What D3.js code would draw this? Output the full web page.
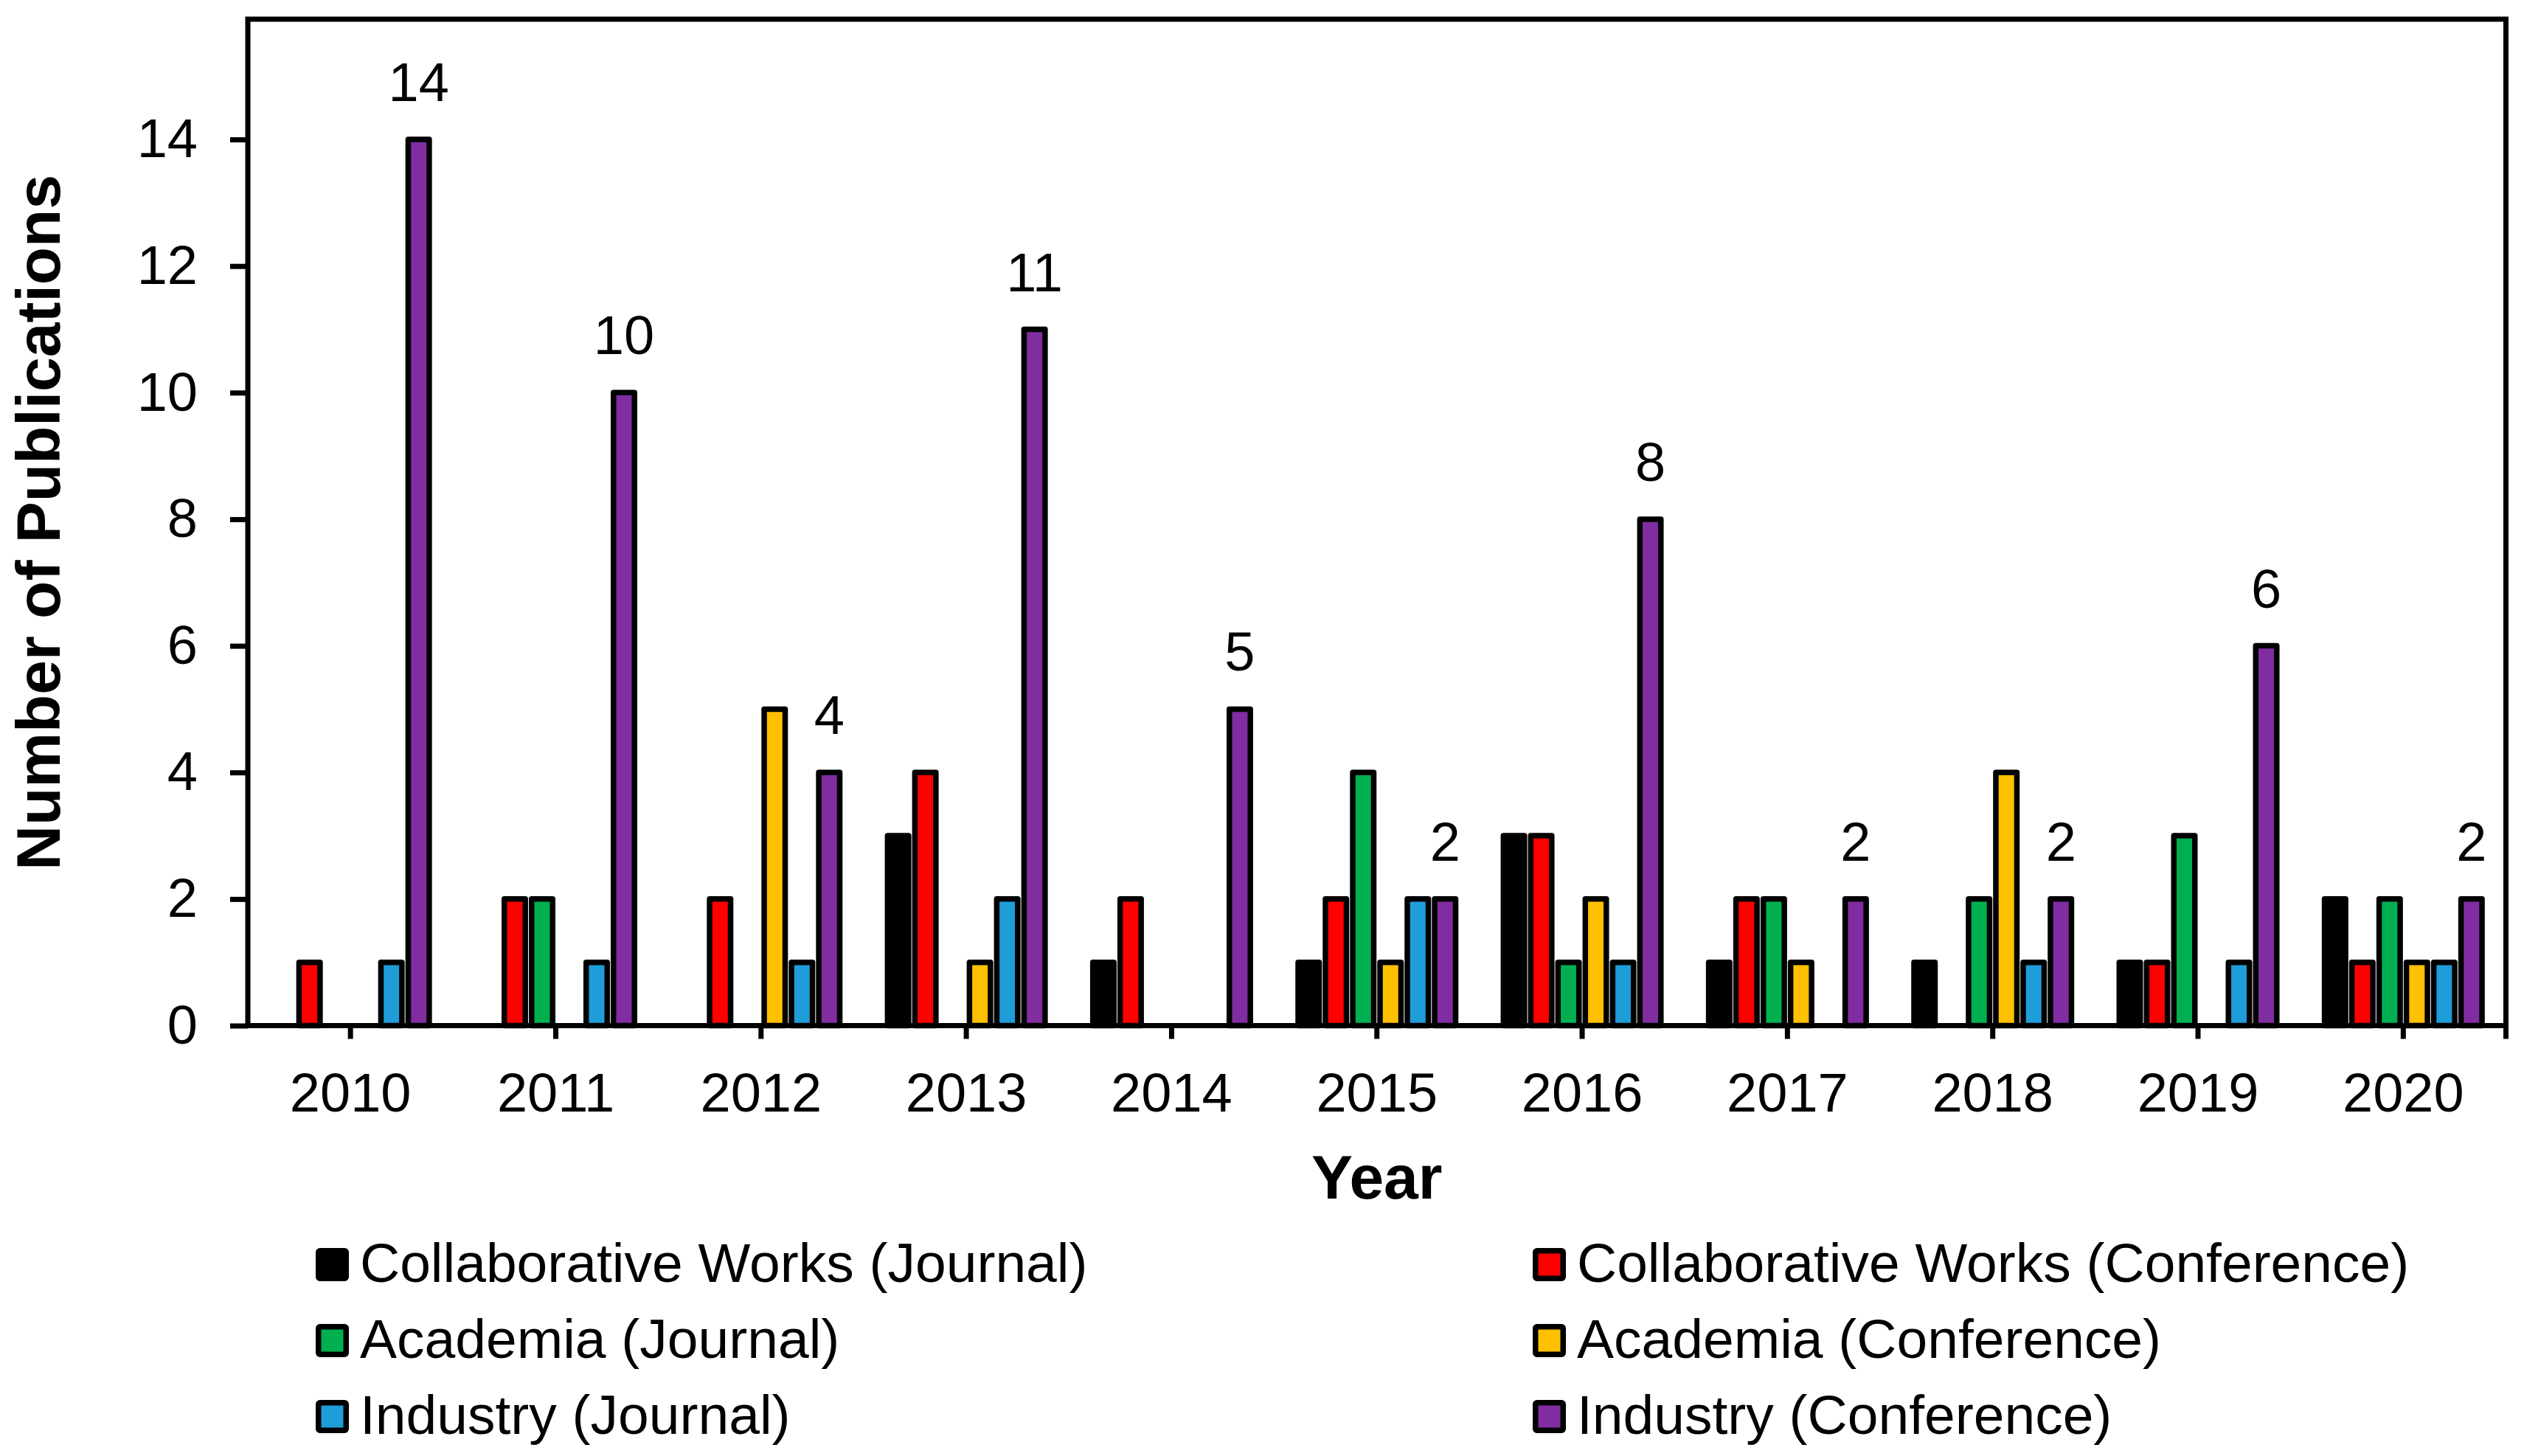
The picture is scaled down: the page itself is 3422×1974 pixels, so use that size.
<!DOCTYPE html>
<html>
<head>
<meta charset="utf-8">
<script src="https://cdn.jsdelivr.net/npm/d3@7"></script>
<style>
  body { margin: 0; background: #fff; }
  text { font-family: "Liberation Sans", Arial, sans-serif; fill: #000; }
</style>
</head>
<body>
<div id="chart"></div>
<script>
// categories and series
const years = ['2010', '2011', '2012', '2013', '2014', '2015', '2016', '2017', '2018', '2019', '2020'];
const seriesNames = [
  'Collaborative Works (Journal)',
  'Collaborative Works (Conference)',
  'Academia (Journal)',
  'Academia (Conference)',
  'Industry (Journal)',
  'Industry (Conference)'
];
const seriesColors = ['#000000', '#FF0000', '#00B050', '#FFC000', '#1E9DD9', '#7F2DA0'];

// values per series, one per year
const collabJournal    = [0, 0, 0, 3, 1, 1, 3, 1, 1, 1, 2];
const collabConference = [1, 2, 2, 4, 2, 2, 3, 2, 0, 1, 1];
const academiaJournal  = [0, 2, 0, 0, 0, 4, 1, 2, 2, 3, 2];
const academiaConf     = [0, 0, 5, 1, 0, 1, 2, 1, 4, 0, 1];
const industryJournal  = [1, 1, 1, 2, 0, 2, 1, 0, 1, 1, 1];
const industryConf     = [14, 10, 4, 11, 5, 2, 8, 2, 2, 6, 2];

const yTicks = [0, 2, 4, 6, 8, 10, 12, 14];

const seriesValues = [collabJournal, collabConference, academiaJournal, academiaConf, industryJournal, industryConf];

const W = 3422, H = 1974;
const margin = { top: 26, right: 24.5, bottom: 583.5, left: 336 };
const width = W - margin.left - margin.right;
const height = H - margin.top - margin.bottom;
const lw = 7;

const svg = d3.select('#chart')
  .append('svg')
    .attr('width', W)
    .attr('height', H);

const g = svg.append('g')
  .attr('transform', `translate(${margin.left},${margin.top})`);

const x0 = d3.scaleBand()
  .domain(years)
  .range([0, width])
  .padding(0);

const groupW = 222;
const x1 = d3.scaleBand()
  .domain(seriesNames)
  .range([(x0.bandwidth() - groupW) / 2, (x0.bandwidth() + groupW) / 2]);

const y = d3.scaleLinear()
  .domain([0, 15.9])
  .range([height, 0]);

// flatten to bar records
const bars = [];
seriesNames.forEach((s, si) => {
  years.forEach((yr, i) => {
    bars.push({ series: s, year: yr, value: seriesValues[si][i], color: seriesColors[si] });
  });
});

// Bars
const barStroke = 7.5;
const barW = x1.bandwidth() - barStroke - 1;
g.append('g')
  .selectAll('rect')
  .data(bars.filter(d => d.value > 0))
  .enter()
  .append('rect')
    .attr('x', d => x0(d.year) + x1(d.series) + (x1.bandwidth() - barW) / 2)
    .attr('y', d => y(d.value))
    .attr('width', barW)
    .attr('height', d => y(0) - y(d.value))
    .attr('fill', d => d.color)
    .attr('stroke', '#000')
    .attr('stroke-width', barStroke)
    .attr('stroke-linejoin', 'round');

// Data labels on Industry (Conference)
const lastSeries = seriesNames[5];
g.append('g')
  .selectAll('text')
  .data(years)
  .enter()
  .append('text')
    .attr('x', (d, i) => x0(d) + x1(lastSeries) + x1.bandwidth() / 2)
    .attr('y', (d, i) => y(industryConf[i]) - 52)
    .attr('text-anchor', 'middle')
    .style('font-size', '74px')
    .text((d, i) => industryConf[i]);

// Y axis
const yAxis = g.append('g')
  .call(d3.axisLeft(y)
    .tickValues(yTicks)
    .tickSize(24)
    .tickSizeOuter(0)
    .tickPadding(44));
yAxis.select('.domain').remove();
yAxis.selectAll('line').attr('stroke', '#000').attr('stroke-width', lw);
yAxis.selectAll('text')
  .style('font-size', '74px')
  .attr('dy', '0.32em');

// X axis
const xAxis = g.append('g')
  .attr('transform', `translate(0,${height})`)
  .call(d3.axisBottom(x0)
    .tickSize(18)
    .tickSizeOuter(0));
xAxis.select('.domain').remove();
xAxis.selectAll('line').attr('stroke', '#000').attr('stroke-width', lw);
xAxis.selectAll('text')
  .style('font-size', '74px')
  .attr('y', 116)
  .attr('dy', 0);

// plot frame
g.append('rect')
  .attr('x', 0)
  .attr('y', 0)
  .attr('width', width)
  .attr('height', height)
  .attr('fill', 'none')
  .attr('stroke', '#000')
  .attr('stroke-width', lw);

// right edge tick below axis
g.append('line')
  .attr('x1', width).attr('x2', width)
  .attr('y1', height).attr('y2', height + 18)
  .attr('stroke', '#000')
  .attr('stroke-width', lw);

// Axis titles
g.append('text')
  .attr('x', width / 2)
  .attr('y', height + 234.5)
  .attr('text-anchor', 'middle')
  .style('font-size', '84px')
  .style('font-weight', 'bold')
  .text('Year');

svg.append('text')
  .attr('transform', `translate(81,${margin.top + height / 2}) rotate(-90)`)
  .attr('text-anchor', 'middle')
  .style('font-size', '84px')
  .style('font-weight', 'bold')
  .text('Number of Publications');

// Legend, two columns, three rows
const legendCols = [428, 2078];
const legendRow0 = 1692, legendRowStep = 103;
const sw = 45;
const legend = svg.append('g');
seriesNames.forEach((s, i) => {
  const col = i % 2, row = Math.floor(i / 2);
  const lx = legendCols[col], ly = legendRow0 + row * legendRowStep;
  legend.append('rect')
    .attr('x', lx + barStroke / 2)
    .attr('y', ly + barStroke / 2)
    .attr('width', sw - barStroke)
    .attr('height', sw - barStroke)
    .attr('rx', 2)
    .attr('fill', seriesColors[i])
    .attr('stroke', '#000')
    .attr('stroke-width', barStroke);
  legend.append('text')
    .attr('x', lx + 60)
    .attr('y', ly + 46)
    .style('font-size', '75px')
    .text(s);
});
</script>
</body>
</html>
